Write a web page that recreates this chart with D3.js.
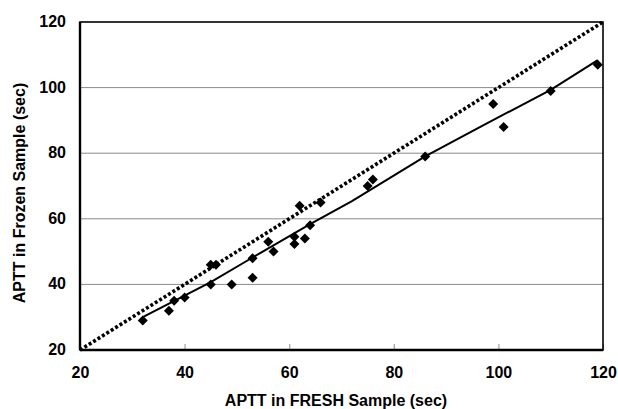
<!DOCTYPE html>
<html>
<head>
<meta charset="utf-8">
<script src="https://cdn.jsdelivr.net/npm/d3@7"></script>
<style>
  body { margin: 0; background: #fff; }
  text { font-family: "Liberation Sans", Arial, sans-serif; font-weight: bold; }
</style>
</head>
<body>
<div id="chart"></div>
<script>
// APTT values (sec)
var freshX  = [32, 37, 38, 40, 45, 46, 45, 49, 53, 53, 56, 57, 61, 61, 63, 64, 62, 66, 75, 76, 86, 99, 101, 110, 119];
var frozenY = [29, 32, 35, 36, 46, 46, 40, 40, 42, 48, 53, 50, 54.5, 52.3, 54, 58, 64, 65, 70, 72, 79, 95, 88, 99, 107];

// fitted line, as drawn
var fitX = [32, 45, 53, 64, 72, 86, 96, 110, 119];
var fitY = [30, 40.7, 48.2, 58.4, 65.4, 79, 87.6, 99.3, 108.4];

// line of identity
var identX = [20, 120];
var identY = [20, 120];

var xTicks = [20, 40, 60, 80, 100, 120];
var yTicks = [20, 40, 60, 80, 100, 120];
var gridTicks = [40, 60, 80, 100];

var W = 618, H = 409;
var margin = { top: 22, right: 15, bottom: 59, left: 80 };

var svg = d3.select("#chart").append("svg")
  .attr("width", W)
  .attr("height", H);

var x = d3.scaleLinear().domain([20, 120]).range([margin.left, W - margin.right]);
var y = d3.scaleLinear().domain([20, 120]).range([H - margin.bottom, margin.top]);

// horizontal grid
svg.append("g")
  .selectAll("line")
  .data(gridTicks)
  .enter().append("line")
  .attr("x1", x(20)).attr("x2", x(120))
  .attr("y1", function (d) { return y(d); })
  .attr("y2", function (d) { return y(d); })
  .attr("stroke", "#8a8a8a")
  .attr("stroke-width", 1);

// x axis: small inward ticks
var xAxis = svg.append("g")
  .attr("transform", "translate(0," + y(20) + ")")
  .call(d3.axisBottom(x).tickValues(xTicks).tickSize(-6).tickPadding(16.5));
xAxis.select(".domain").remove();
xAxis.selectAll(".tick line").attr("stroke", "#a0a0a0").attr("stroke-width", 1.2);
xAxis.selectAll("text").attr("fill", "#000").style("font-size", "16px");

// y axis
var yAxis = svg.append("g")
  .attr("transform", "translate(" + x(20) + ",0)")
  .call(d3.axisLeft(y).tickValues(yTicks).tickSize(0).tickPadding(14));
yAxis.select(".domain").remove();
yAxis.selectAll("text").attr("fill", "#000").attr("dy", "0.28em").style("font-size", "16px");

// plot border
svg.append("rect")
  .attr("x", x(20)).attr("y", y(120))
  .attr("width", x(120) - x(20))
  .attr("height", y(20) - y(120))
  .attr("fill", "none")
  .attr("stroke", "#000")
  .attr("stroke-width", 1.6);

// heavier left and bottom axis lines
svg.append("line")
  .attr("x1", x(20)).attr("x2", x(20))
  .attr("y1", y(120)).attr("y2", y(20))
  .attr("stroke", "#000").attr("stroke-width", 2.4);
svg.append("line")
  .attr("x1", x(20)).attr("x2", x(120))
  .attr("y1", y(20)).attr("y2", y(20))
  .attr("stroke", "#000").attr("stroke-width", 2.4);

var line = d3.line()
  .x(function (d) { return x(d[0]); })
  .y(function (d) { return y(d[1]); });

// dotted identity line
svg.append("path")
  .datum(d3.zip(identX, identY))
  .attr("d", line)
  .attr("fill", "none")
  .attr("stroke", "#000")
  .attr("stroke-width", 3.6)
  .attr("stroke-dasharray", "3,2.2");

// solid fitted line
svg.append("path")
  .datum(d3.zip(fitX, fitY))
  .attr("d", line)
  .attr("fill", "none")
  .attr("stroke", "#000")
  .attr("stroke-width", 2);

// diamonds
var r = 5;
svg.append("g")
  .selectAll("path")
  .data(d3.zip(freshX, frozenY))
  .enter().append("path")
  .attr("transform", function (d) { return "translate(" + x(d[0]) + "," + y(d[1]) + ")"; })
  .attr("d", "M0," + (-r) + "L" + r + ",0L0," + r + "L" + (-r) + ",0Z")
  .attr("fill", "#000");

// axis titles
svg.append("text")
  .attr("x", 336)
  .attr("y", 406)
  .attr("text-anchor", "middle")
  .style("font-size", "16px")
  .text("APTT in FRESH Sample (sec)");

svg.append("text")
  .attr("transform", "translate(25,193) rotate(-90)")
  .attr("text-anchor", "middle")
  .style("font-size", "16px")
  .text("APTT in Frozen Sample (sec)");
</script>
</body>
</html>
